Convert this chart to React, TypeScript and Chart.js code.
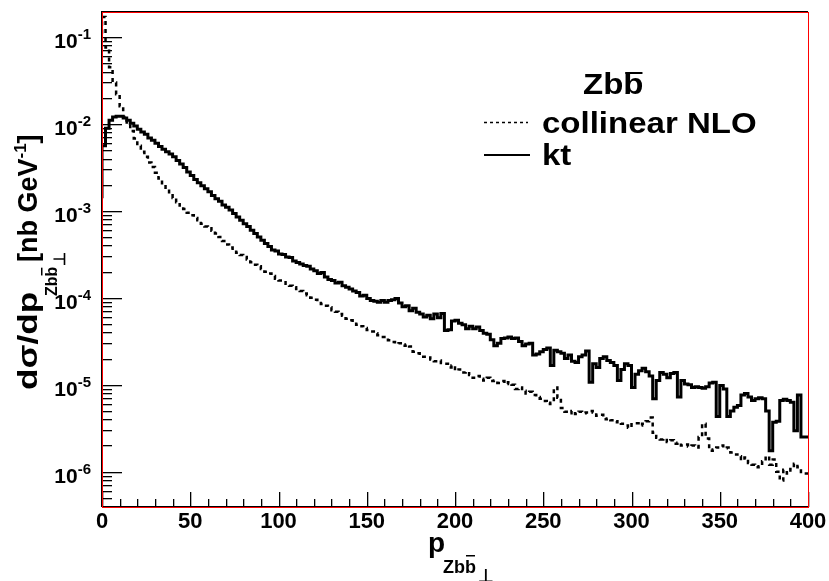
import { useEffect, useRef } from "react";
import { Chart, registerables } from "chart.js";

Chart.register(...registerables);

// ---- data (2 GeV bins from 0 to 400) ----
const X_MIN = 0;
const X_MAX = 400;
const BIN_WIDTH = 2;

const collinearNLO = [
  1.1e-1, 1.7e-1, 7.6e-2, 4.5e-2, 3.0e-2, 2.2e-2, 1.6e-2, 1.2e-2, 1.0e-2, 8.3e-3,
  6.8e-3, 5.6e-3, 4.8e-3, 4.2e-3, 3.6e-3, 3.2e-3, 2.75e-3, 2.35e-3, 2.0e-3, 1.78e-3,
  1.58e-3, 1.41e-3, 1.26e-3, 1.15e-3, 1.05e-3, 9.5e-4, 8.9e-4, 8.3e-4, 7.8e-4, 7.1e-4,
  6.6e-4, 6.3e-4, 5.9e-4, 5.5e-4, 5.0e-4, 4.5e-4, 4.1e-4, 3.8e-4, 3.55e-4, 3.3e-4,
  3.1e-4, 2.95e-4, 2.75e-4, 2.57e-4, 2.4e-4, 2.3e-4, 2.14e-4, 2.0e-4, 1.9e-4, 1.78e-4,
  1.66e-4, 1.58e-4, 1.51e-4, 1.45e-4, 1.38e-4, 1.32e-4, 1.26e-4, 1.2e-4, 1.12e-4, 1.07e-4,
  1.0e-4, 9.5e-5, 9.1e-5, 8.5e-5, 8.1e-5, 7.8e-5, 7.2e-5, 6.9e-5, 6.5e-5, 6.2e-5,
  5.75e-5, 5.5e-5, 5.25e-5, 4.9e-5, 4.7e-5, 4.5e-5, 4.25e-5, 4.1e-5, 3.9e-5, 3.7e-5,
  3.55e-5, 3.4e-5, 3.25e-5, 3.1e-5, 2.95e-5, 3.0e-5, 2.8e-5, 2.9e-5, 2.75e-5, 2.4e-5,
  2.3e-5, 2.2e-5, 2.1e-5, 2.05e-5, 1.95e-5, 1.86e-5, 1.9e-5, 1.78e-5, 1.74e-5, 1.58e-5,
  1.66e-5, 1.45e-5, 1.5e-5, 1.38e-5, 1.41e-5, 1.29e-5, 1.2e-5, 1.26e-5, 1.17e-5, 1.12e-5,
  1.2e-5, 1.1e-5, 1.12e-5, 1.05e-5, 1.1e-5, 1.02e-5, 1.07e-5, 1.0e-5, 8.9e-6, 9.3e-6,
  8.5e-6, 7.9e-6, 8.3e-6, 7.6e-6, 7.2e-6, 6.9e-6, 6.5e-6, 6.0e-6, 6.2e-6, 9.3e-6,
  7.1e-6, 5.4e-6, 4.9e-6, 4.7e-6, 5.0e-6, 4.6e-6, 4.9e-6, 4.7e-6, 4.8e-6, 5.0e-6,
  4.8e-6, 4.4e-6, 4.5e-6, 4.0e-6, 4.1e-6, 3.9e-6, 3.7e-6, 3.8e-6, 3.55e-6, 3.4e-6,
  3.2e-6, 3.5e-6, 3.6e-6, 3.4e-6, 3.55e-6, 3.8e-6, 4.2e-6, 2.8e-6, 2.45e-6, 2.35e-6,
  2.4e-6, 2.2e-6, 2.3e-6, 2.1e-6, 2.15e-6, 2.0e-6, 2.05e-6, 1.95e-6, 2.0e-6, 1.9e-6,
  2.5e-6, 3.55e-6, 2.4e-6, 1.74e-6, 1.8e-6, 1.9e-6, 2.0e-6, 1.86e-6, 1.9e-6, 1.66e-6,
  1.58e-6, 1.5e-6, 1.35e-6, 1.45e-6, 1.26e-6, 1.2e-6, 1.12e-6, 1.15e-6, 1.32e-6, 1.5e-6,
  1.2e-6, 1.38e-6, 1.0e-6, 7.9e-7, 1.05e-6, 9.5e-7, 1.07e-6, 1.23e-6, 1.12e-6, 9.5e-7,
];

const kt = [
  1.4e-3, 5.6e-3, 8.9e-3, 1.1e-2, 1.2e-2, 1.23e-2, 1.23e-2, 1.17e-2, 1.1e-2, 1.02e-2,
  9.5e-3, 8.7e-3, 8.1e-3, 7.6e-3, 6.9e-3, 6.5e-3, 6.0e-3, 5.5e-3, 5.1e-3, 4.8e-3,
  4.5e-3, 4.2e-3, 3.8e-3, 3.45e-3, 3.15e-3, 2.8e-3, 2.55e-3, 2.3e-3, 2.1e-3, 1.95e-3,
  1.8e-3, 1.66e-3, 1.5e-3, 1.38e-3, 1.29e-3, 1.17e-3, 1.1e-3, 1.02e-3, 9.3e-4, 8.5e-4,
  7.8e-4, 7.1e-4, 6.6e-4, 6.0e-4, 5.5e-4, 5.0e-4, 4.6e-4, 4.2e-4, 3.9e-4, 3.55e-4,
  3.45e-4, 3.2e-4, 3.15e-4, 2.95e-4, 2.9e-4, 2.65e-4, 2.55e-4, 2.45e-4, 2.35e-4, 2.3e-4,
  2.15e-4, 2.05e-4, 1.9e-4, 1.95e-4, 1.74e-4, 1.62e-4, 1.58e-4, 1.48e-4, 1.51e-4, 1.38e-4,
  1.32e-4, 1.26e-4, 1.2e-4, 1.15e-4, 1.05e-4, 1.07e-4, 9.8e-5, 9.3e-5, 9.1e-5, 8.9e-5,
  9.3e-5, 8.9e-5, 9.3e-5, 9.5e-5, 9.8e-5, 8.7e-5, 7.9e-5, 8.1e-5, 7.1e-5, 7.6e-5,
  6.8e-5, 6.5e-5, 6.0e-5, 6.3e-5, 5.75e-5, 6.5e-5, 5.9e-5, 6.6e-5, 4.2e-5, 4.3e-5,
  5.4e-5, 5.5e-5, 5.1e-5, 4.9e-5, 4.4e-5, 4.7e-5, 4.4e-5, 4.6e-5, 4.2e-5, 3.9e-5,
  3.8e-5, 3.3e-5, 2.8e-5, 3.0e-5, 3.4e-5, 3.45e-5, 3.55e-5, 3.4e-5, 3.45e-5, 3.15e-5,
  2.8e-5, 2.95e-5, 3.0e-5, 2.2e-5, 2.25e-5, 2.4e-5, 2.55e-5, 2.65e-5, 1.66e-5, 2.5e-5,
  2.4e-5, 2.3e-5, 2.0e-5, 2.2e-5, 1.86e-5, 1.8e-5, 2.1e-5, 2.2e-5, 2.45e-5, 1.07e-5,
  1.74e-5, 1.58e-5, 2.0e-5, 2.1e-5, 1.9e-5, 1.8e-5, 1.66e-5, 1.12e-5, 1.5e-5, 1.74e-5,
  1.66e-5, 9.3e-6, 1.32e-5, 1.45e-5, 1.55e-5, 1.41e-5, 1.26e-5, 6.9e-6, 1.12e-5, 1.38e-5,
  1.32e-5, 1.2e-5, 1.35e-5, 1.38e-5, 7.2e-6, 1.12e-5, 1.02e-5, 1.0e-5, 9.3e-6, 9.5e-6,
  9.3e-6, 9.1e-6, 9.5e-6, 1.05e-5, 1.07e-5, 4.3e-6, 9.8e-6, 8.9e-6, 4.3e-6, 5.0e-6,
  5.5e-6, 5.75e-6, 7.6e-6, 7.9e-6, 7.2e-6, 6.6e-6, 6.9e-6, 7.1e-6, 6.9e-6, 5.0e-6,
  1.74e-6, 3.7e-6, 3.8e-6, 6.6e-6, 6.8e-6, 6.6e-6, 6.3e-6, 2.95e-6, 7.6e-6, 2.5e-6,
];

const Y_MIN = 3.92e-7;
const Y_MAX = 0.194;
const xMajorTicks = [0, 50, 100, 150, 200, 250, 300, 350, 400];
const xMinorTicks = [
  10, 20, 30, 40, 60, 70, 80, 90, 110, 120, 130, 140, 160, 170, 180, 190,
  210, 220, 230, 240, 260, 270, 280, 290, 310, 320, 330, 340, 360, 370, 380, 390,
];
const yDecadeExponents = [-6, -5, -4, -3, -2, -1];
const yMinorMantissas = [2, 3, 4, 5, 6, 7, 8, 9];

const FONT = "'Liberation Sans', Arial, Helvetica, sans-serif";

function toHist(values: number[]) {
  const pts = values.map((v, i) => ({ x: X_MIN + i * BIN_WIDTH, y: v }));
  pts.push({ x: X_MAX, y: values[values.length - 1] });
  return pts;
}

function bold(size: number) {
  return `bold ${size}px ${FONT}`;
}

const rootStyle = {
  id: "rootStyle",
  afterDraw(chart: any) {
    const { ctx, chartArea: a, scales } = chart;
    const xs = scales.x;
    const ys = scales.y;
    const L = Math.round(a.left);
    const R = Math.round(a.right);
    const T = Math.round(a.top);
    const B = Math.round(a.bottom);
    ctx.save();
    ctx.setLineDash([]);
    ctx.fillStyle = "#000000";

    // dark frame lines (top, left, bottom)
    ctx.fillRect(L - 1, T - 1, R - L + 1, 1);
    ctx.fillRect(L - 1, T - 1, 1, B - T + 1);
    ctx.fillRect(L - 1, B - 1, R - L + 1, 1);

    // ticks (inward, ROOT style)
    for (const v of xMajorTicks) {
      const px = Math.round(xs.getPixelForValue(v));
      ctx.fillRect(px, B - 15, 1.3, 15);
    }
    for (const v of xMinorTicks) {
      const px = Math.round(xs.getPixelForValue(v));
      ctx.fillRect(px, B - 8, 1.3, 8);
    }
    for (const e of [-7].concat(yDecadeExponents, [0])) {
      const dec = Math.pow(10, e);
      if (dec >= Y_MIN && dec <= Y_MAX) {
        const py = Math.round(ys.getPixelForValue(dec));
        ctx.fillRect(L, py, 20, 1.3);
      }
      for (const m of yMinorMantissas) {
        const val = m * dec;
        if (val < Y_MIN || val > Y_MAX) continue;
        const py = Math.round(ys.getPixelForValue(val));
        ctx.fillRect(L, py, 10, 1.3);
      }
    }

    // red frame
    ctx.fillStyle = "#ff0000";
    ctx.fillRect(L, T, R - L + 1, 1);
    ctx.fillRect(L, B, R - L + 1, 1);
    ctx.fillRect(L, T, 1, B - T + 1);
    ctx.fillRect(R, T, 1, B - T + 1);

    // x tick labels
    ctx.fillStyle = "#000000";
    ctx.font = bold(22);
    ctx.textAlign = "center";
    ctx.textBaseline = "alphabetic";
    for (const v of xMajorTicks) {
      ctx.fillText(String(v), xs.getPixelForValue(v), B + 21);
    }

    // y tick labels 10^n
    ctx.textAlign = "left";
    for (const e of yDecadeExponents) {
      const py = ys.getPixelForValue(Math.pow(10, e));
      const sup = String(e);
      ctx.font = bold(15);
      const ws = ctx.measureText(sup).width;
      ctx.font = bold(21);
      const wb = ctx.measureText("10").width;
      const right = L - 11;
      ctx.fillText("10", right - ws - wb, py + 11);
      ctx.font = bold(15);
      ctx.fillText(sup, right - ws, py + 2);
    }

    // x title: p_{Zbb̄⊥}
    ctx.font = bold(28);
    ctx.fillText("p", 428, 552);
    ctx.font = bold(18);
    ctx.fillText("Zbb", 443, 573);
    {
      const wZb = ctx.measureText("Zb").width;
      const wZbb = ctx.measureText("Zbb").width;
      ctx.fillRect(443 + wZb + 1, 555, wZbb - wZb - 2, 1.5);
      ctx.fillText("\u22A5", 443 + wZbb + 2, 582);
    }

    // y title (rotated)
    ctx.save();
    ctx.translate(37, 390);
    ctx.rotate(-Math.PI / 2);
    ctx.save();
    ctx.scale(1.3, 1);
    ctx.font = bold(27);
    ctx.fillText("d\u03C3/dp", 0, 0);
    ctx.restore();
    ctx.font = bold(16);
    const subStart = 94;
    ctx.fillText("Zbb", subStart, 20);
    const wZb2 = ctx.measureText("Zb").width;
    const wZbb2 = ctx.measureText("Zbb").width;
    ctx.fillRect(subStart + wZb2 + 1, 4, wZbb2 - wZb2 - 2, 1.5);
    ctx.fillText("\u22A5", subStart + wZbb2 + 1, 28);
    ctx.font = bold(27);
    let u = 128;
    ctx.fillText("[nb GeV", u, 0);
    u += ctx.measureText("[nb GeV").width;
    ctx.font = bold(17);
    ctx.fillText("-1", u, -11);
    u += ctx.measureText("-1").width;
    ctx.font = bold(27);
    ctx.fillText("]", u, 0);
    ctx.restore();

    // legend
    ctx.font = bold(30);
    const drawStretched = (t: string, x: number, y: number) => {
      ctx.save();
      ctx.translate(x, y);
      ctx.scale(1.1, 1);
      ctx.fillText(t, 0, 0);
      ctx.restore();
    };
    drawStretched("Zbb", 583, 94);
    {
      const wZb = ctx.measureText("Zb").width * 1.1;
      const wZbb = ctx.measureText("Zbb").width * 1.1;
      ctx.fillRect(583 + wZb + 2, 72, wZbb - wZb - 3, 2);
    }
    drawStretched("collinear NLO", 542, 133);
    drawStretched("kt", 542, 165);
    ctx.lineWidth = 1.5;
    ctx.strokeStyle = "#000000";
    ctx.setLineDash([3, 3]);
    ctx.beginPath();
    ctx.moveTo(484, 122.5);
    ctx.lineTo(528, 122.5);
    ctx.stroke();
    ctx.setLineDash([]);
    ctx.fillRect(484, 154, 46, 2);

    ctx.restore();
  },
};

export default function App() {
  const ref = useRef<HTMLCanvasElement | null>(null);
  useEffect(() => {
    if (!ref.current) return;
    const chart = new Chart(ref.current, {
      type: "line",
      data: {
        datasets: [
          {
            label: "collinear NLO",
            data: toHist(collinearNLO),
            borderColor: "#000",
            borderWidth: 2.5,
            borderDash: [4, 4],
            stepped: "after",
            pointRadius: 0,
            fill: false,
          },
          {
            label: "kt",
            data: toHist(kt),
            borderColor: "#000",
            borderWidth: 3,
            stepped: "after",
            pointRadius: 0,
            fill: false,
          },
        ],
      },
      options: {
        animation: false,
        responsive: false,
        devicePixelRatio: 1,
        layout: { padding: { left: 102, right: 21, top: 12, bottom: 74 } },
        plugins: { legend: { display: false }, tooltip: { enabled: false } },
        events: [],
        scales: {
          x: { type: "linear", min: X_MIN, max: X_MAX, display: false },
          y: { type: "logarithmic", min: Y_MIN, max: Y_MAX, display: false },
        },
      },
      plugins: [rootStyle],
    });
    return () => chart.destroy();
  }, []);
  return (
    <div style={{ position: "fixed", left: 0, top: 0, width: 829, height: 581, background: "#fff" }}>
      <canvas ref={ref} width={829} height={581} />
    </div>
  );
}
